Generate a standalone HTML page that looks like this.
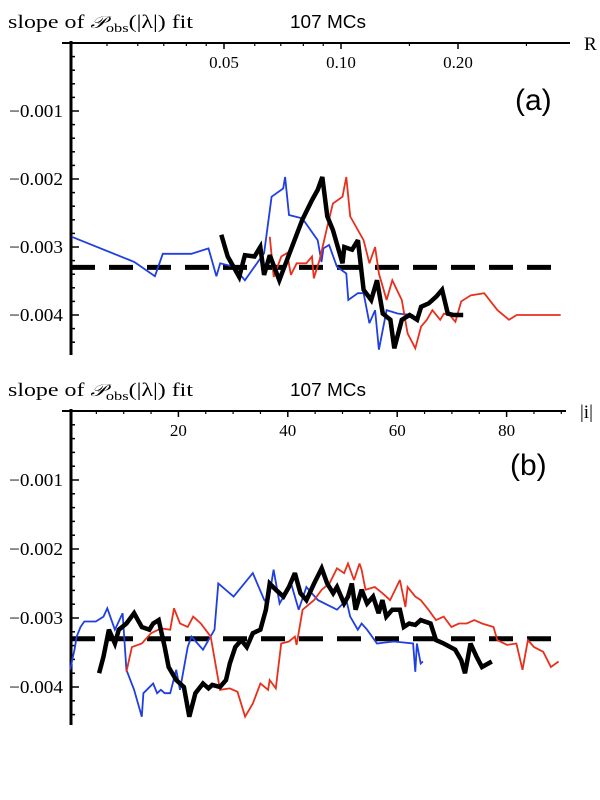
<!DOCTYPE html>
<html><head><meta charset="utf-8"><style>
html,body{margin:0;padding:0;background:#fff;}
svg{display:block;}
.serif{font-family:"Liberation Serif",serif;}
.sans{font-family:"Liberation Sans",sans-serif;}
</style></head><body>
<svg id="chart" width="600" height="800" xmlns="http://www.w3.org/2000/svg"></svg>
<script>
// ---- Panel (a): x = R (log scale), y = slope (units of 1e-3)
const aBlueR=[0.0203,0.0294,0.0332,0.0348,0.0412,0.0456,0.0478,0.0489,0.0529,0.0566,0.0634,0.0663,0.0710,0.0718,0.0735,0.0795,0.0871,0.0891,0.0901,0.0932,0.0976,0.1032,0.1044,0.1105,0.1143,0.1183,0.1224,0.1252,0.1310,0.1402,0.1535];
const aBlueV=[-2.85,-3.22,-3.43,-3.10,-3.10,-3.02,-3.43,-3.24,-3.29,-3.49,-3.09,-2.26,-2.14,-1.97,-2.53,-2.58,-2.90,-3.22,-3.02,-2.97,-3.29,-3.39,-3.78,-3.68,-3.68,-4.12,-3.93,-4.51,-3.93,-3.98,-4.00];
const aBlackR=[0.0492,0.0511,0.0547,0.0566,0.0599,0.0620,0.0634,0.0656,0.0694,0.0726,0.0795,0.0842,0.0871,0.0895,0.0922,0.0953,0.1009,0.102,0.1068,0.1105,0.1143,0.1196,0.1238,0.1281,0.134,0.1371,0.1434,0.1501,0.157,0.1607,0.1681,0.1759,0.182,0.1883,0.1948,0.2062];
const aBlackV=[-2.82,-3.14,-3.44,-3.12,-3.14,-3.00,-3.41,-3.12,-3.49,-3.19,-2.60,-2.31,-2.16,-1.97,-2.55,-2.75,-3.24,-3.00,-3.04,-2.90,-3.63,-3.78,-3.49,-3.98,-4.07,-4.49,-4.07,-4.00,-4.07,-3.88,-3.83,-3.73,-3.63,-3.98,-4.00,-4.00];
const aRedR=[0.0656,0.0671,0.0702,0.0726,0.0743,0.0769,0.0814,0.0842,0.0851,0.0881,0.0922,0.0953,0.1009,0.1032,0.1056,0.1143,0.1183,0.1224,0.1252,0.131,0.1355,0.1434,0.1484,0.1553,0.1607,0.1662,0.1719,0.18,0.184,0.1904,0.197,0.2038,0.2157,0.2336,0.2528,0.2706,0.2832,0.3675];
const aRedV=[-2.85,-3.44,-3.14,-3.09,-3.41,-3.24,-3.24,-3.14,-3.46,-3.19,-2.70,-2.36,-2.26,-1.97,-2.55,-2.90,-3.24,-3.00,-3.39,-3.78,-3.49,-3.78,-4.27,-4.49,-4.17,-4.07,-3.93,-4.07,-3.98,-4.00,-4.10,-3.80,-3.71,-3.68,-3.93,-4.07,-4.00,-4.00];
const aXTicks=[0.05,0.10,0.20];
const aXTickLabels=["0.05","0.10","0.20"];
// ---- Panel (b): x = |i|
const bBlueI=[0.2,1.0,1.4,2.1,2.8,4.9,6.3,7.0,8.4,9.8,10.5,11.9,13.3,13.6,15.4,16.1,16.8,17.5,18.5,19.6,20.3,21.7,22.4,24.5,26.6,27.3,30.1,33.6,35.7,36.4,37.4,38.5,40.6,42.0,43.4,45.5,49.0,50.7,51.4,52.8,53.5,54.5,56.3,59.4,62.9,63.3,63.6,64.3,64.7];
const bBlueV=[-3.75,-3.46,-3.27,-3.13,-3.05,-3.05,-2.98,-2.86,-3.17,-2.93,-3.75,-4.04,-4.43,-4.09,-3.95,-4.09,-4.04,-4.09,-4.09,-3.75,-4.04,-3.42,-3.27,-3.46,-3.17,-2.50,-2.69,-2.35,-2.74,-2.79,-2.30,-2.79,-2.50,-2.88,-2.55,-2.74,-2.88,-2.74,-2.98,-3.17,-3.08,-3.17,-3.37,-3.34,-3.37,-3.78,-3.37,-3.66,-3.63];
const bBlackI=[5.5,6.3,7.3,8.4,9.1,10.5,11.9,12.6,13.3,14.7,15.4,16.4,17.5,18.2,19.6,21.0,22.0,23.1,24.5,25.5,26.2,27.6,28.7,29.4,30.4,31.5,32.5,33.6,35.0,36.0,36.7,37.8,39.2,40.2,41.3,42.3,43.4,44.8,46.2,47.2,48.3,49.0,50.3,51.0,51.7,52.4,53.5,54.5,55.6,56.6,57.3,58.0,59.1,60.5,61.2,62.2,63.3,64.3,66.1,67.1,68.5,70.6,71.7,72.4,73.4,74.5,75.5,77.3];
const bBlackV=[-3.80,-3.56,-3.17,-3.37,-3.17,-3.08,-2.93,-3.03,-3.13,-3.17,-3.08,-3.03,-3.42,-3.71,-3.90,-4.00,-4.43,-4.09,-3.95,-4.02,-3.97,-4.00,-3.90,-3.66,-3.42,-3.32,-3.42,-3.22,-3.17,-2.88,-2.50,-2.59,-2.69,-2.55,-2.35,-2.64,-2.74,-2.50,-2.28,-2.50,-2.64,-2.55,-2.79,-2.69,-2.50,-2.88,-2.59,-2.79,-2.69,-2.93,-2.74,-2.98,-2.88,-2.88,-3.13,-3.08,-3.10,-3.03,-3.08,-3.32,-3.37,-3.46,-3.61,-3.80,-3.37,-3.56,-3.71,-3.63];
const bRedI=[10.5,11.5,13.3,15.0,16.8,18.5,19.2,20.3,21.7,22.7,24.1,25.9,27.6,29.4,30.8,32.2,33.6,35.0,36.4,36.7,37.8,38.8,40.2,41.3,41.6,42.7,44.8,46.2,47.6,49.0,50.3,51.0,52.1,53.1,53.5,54.2,55.9,57.3,58.7,60.5,61.5,61.9,63.3,64.3,65.7,67.1,68.5,69.9,71.3,72.7,74.1,75.5,77.6,78.3,80.1,81.8,82.9,83.9,85.0,86.7,88.1,89.5];
const bRedV=[-3.78,-3.42,-3.37,-3.22,-3.15,-3.17,-2.86,-3.08,-3.13,-2.98,-3.08,-3.27,-4.04,-4.02,-4.07,-4.43,-4.24,-3.95,-4.04,-3.90,-4.02,-3.37,-3.34,-3.27,-3.39,-2.88,-2.74,-2.59,-2.50,-2.28,-2.35,-2.21,-2.45,-2.21,-2.30,-2.59,-2.55,-2.64,-2.74,-2.45,-2.84,-2.55,-2.69,-2.74,-2.88,-3.03,-2.98,-3.13,-3.08,-3.08,-3.03,-3.08,-3.13,-3.32,-3.39,-3.37,-3.75,-3.32,-3.42,-3.49,-3.71,-3.63];
const bXTicks=[20,40,60,80];
const bXTickLabels=["20","40","60","80"];
const yTicks=[-1,-2,-3,-4];
const yTickLabels=["\u22120.001","\u22120.002","\u22120.003","\u22120.004"];
const refLevel=-3.3;

const NS="http://www.w3.org/2000/svg";
const svg=document.getElementById('chart');
function mk(tag,attrs,parent){const e=document.createElementNS(NS,tag);for(const k in attrs)e.setAttribute(k,attrs[k]);(parent||svg).appendChild(e);return e;}

function panel(cfg){
  const g=mk('g',{});
  
  
  const X=cfg.xs, Y=v=>cfg.y0-v*cfg.ypx;
  const t=mk('text',{x:8,y:cfg.y0-15,'font-size':19,class:'serif',textLength:185,lengthAdjust:'spacingAndGlyphs'},g);
  
  
  t.innerHTML='slope of <tspan font-style="italic" font-family="DejaVu Serif, serif" font-size="17">\u{1D4AB}</tspan><tspan font-size="13" dy="4">obs</tspan><tspan dy="-4">(|\u03BB|) fit</tspan>';
  const mc=mk('text',{x:cfg.mcx,y:cfg.y0-15,'font-size':18,class:'sans',textLength:76,lengthAdjust:'spacingAndGlyphs'},g);
  
  
  mc.textContent='107 MCs';
  const xa=mk('line',{x1:62,y1:cfg.y0,x2:cfg.xend,y2:cfg.y0,stroke:'#000','stroke-width':2},g);
  
  
  const ya=mk('line',{x1:71,y1:cfg.y0-2,x2:71,y2:cfg.yend,stroke:'#000','stroke-width':3},g);
  
  
  const xl=mk('text',{x:cfg.xend+14,y:cfg.y0+7,'font-size':19,class:'serif'},g);
  
  
  xl.textContent=cfg.xlabel;
  for(let v=0;v>=-4.6;v-=0.2){
    const yy=Y(v); if(yy<cfg.y0+4||yy>cfg.yend)continue;
    const major=Math.abs(v-Math.round(v))<0.01;
    const tk=mk('line',{x1:71,y1:yy,x2:major?79:75,y2:yy,stroke:'#000','stroke-width':1.5},g);
    
    
  }
  yTicks.forEach((v,i)=>{
    const tl=mk('text',{x:63,y:Y(v)+6,'font-size':18,'text-anchor':'end',class:'serif',textLength:54,lengthAdjust:'spacingAndGlyphs'},g);
    
    
    tl.textContent=yTickLabels[i];
  });
  cfg.minor.forEach(x=>{
    const tk=mk('line',{x1:X(x),y1:cfg.y0,x2:X(x),y2:cfg.y0+3,stroke:'#000','stroke-width':1.2},g);
    
    
  });
  cfg.ticks.forEach((x,i)=>{
    const tk=mk('line',{x1:X(x),y1:cfg.y0,x2:X(x),y2:cfg.y0+6,stroke:'#000','stroke-width':1.5},g);
    
    
    const tl=mk('text',{x:X(x),y:cfg.y0+25,'font-size':17,'text-anchor':'middle',class:'serif'},g);
    
    
    tl.textContent=cfg.tickLabels[i];
  });
  const pl=mk('text',{x:cfg.plx,y:cfg.ply,'font-size':30,class:'sans'},g);
  
  
  pl.textContent=cfg.panel;
  const dl=mk('line',{x1:71,y1:Y(refLevel),x2:561,y2:Y(refLevel),stroke:'#000','stroke-width':5,'stroke-dasharray':'24,14'},g);
  
  
  cfg.series.forEach(s=>{
    const pts=s.x.map((x,i)=>X(x).toFixed(1)+','+Y(s.v[i]).toFixed(1)).join(' ');
    const p=mk('polyline',{points:pts,fill:'none',stroke:s.c,'stroke-width':s.w,'stroke-linejoin':'miter','stroke-miterlimit':3},g);
    
    
  });
}
const xsA=R=>341+117*Math.log2(R/0.1);
panel({name:'panel-a',y0:43,ypx:68,yend:355,xend:570,xs:xsA,xlabel:'R',panel:'(a)',plx:515,ply:110,mcx:290,
  ticks:aXTicks,tickLabels:aXTickLabels,minor:[0.025,0.03,0.035,0.04,0.045,0.06,0.07,0.08,0.09,0.15,0.3],
  series:[{x:aBlueR,v:aBlueV,c:'#1f3fe0',w:1.8,name:'series-blue'},{x:aRedR,v:aRedV,c:'#e8301c',w:1.8,name:'series-red'},{x:aBlackR,v:aBlackV,c:'#000',w:4.5,name:'series-black'}]});
const xsB=i=>69+5.47*i;
panel({name:'panel-b',y0:411,ypx:69,yend:725,xend:566,xs:xsB,xlabel:'|i|',panel:'(b)',plx:510,ply:475,mcx:290,
  ticks:bXTicks,tickLabels:bXTickLabels,minor:[5,10,15,25,30,35,45,50,55,65,70,75,85,90],
  series:[{x:bBlueI,v:bBlueV,c:'#1f3fe0',w:1.8,name:'series-blue'},{x:bRedI,v:bRedV,c:'#e8301c',w:1.8,name:'series-red'},{x:bBlackI,v:bBlackV,c:'#000',w:4.5,name:'series-black'}]});
</script>
</body></html>
